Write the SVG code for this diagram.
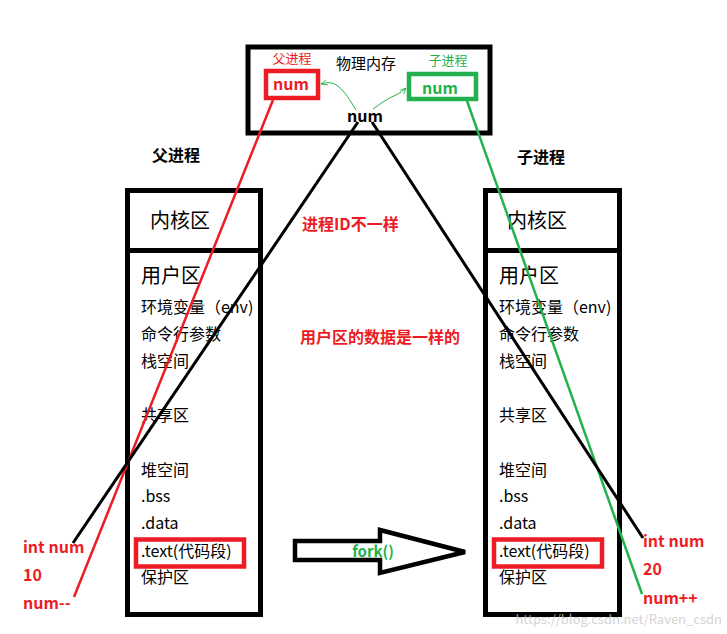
<svg xmlns="http://www.w3.org/2000/svg" width="727" height="634" viewBox="0 0 727 634">
<defs>
<style>
text{font-family:"Noto Sans CJK SC","Liberation Sans",sans-serif;}
.box{fill:none;stroke:#000;stroke-width:5;}
.item{font-size:16px;fill:#000;}
.big{font-size:20px;fill:#000;}
.red{fill:#ed1c24;}
.green{fill:#22b14c;}
.b{font-weight:bold;}
.hl{fill:none;stroke:#ed1c24;stroke-width:4.5;}
</style>
<marker id="ga" viewBox="0 0 10 10" refX="9" refY="5" markerWidth="7" markerHeight="7" orient="auto" markerUnits="userSpaceOnUse">
<path d="M0,1 L9,5 L0,9" fill="none" stroke="#22b14c" stroke-width="1.2"/>
</marker>
</defs>
<rect width="727" height="634" fill="#fff"/>

<g id="memory">
<rect class="box" x="248" y="47" width="242" height="86"/>
<text x="366" y="69" text-anchor="middle" font-size="15">物理内存</text>
<text x="292" y="63" text-anchor="middle" font-size="13" class="red">父进程</text>
<text x="448" y="65" text-anchor="middle" font-size="13" class="green">子进程</text>
<rect x="266" y="71" width="52" height="27" fill="none" stroke="#ed1c24" stroke-width="4.5"/>
<text x="291" y="90" text-anchor="middle" font-size="16" class="red b">num</text>
<rect x="409" y="74" width="67" height="25" fill="none" stroke="#22b14c" stroke-width="4.5"/>
<text x="440" y="94" text-anchor="middle" font-size="16" class="green b">num</text>
<text x="365" y="122" text-anchor="middle" font-size="16" class="b">num</text>
</g>

<g id="parent">
<text x="152" y="161" font-size="16" class="b">父进程</text>
<rect class="box" x="127.5" y="190.5" width="133" height="424"/>
<line x1="127.5" y1="250.5" x2="260.5" y2="250.5" stroke="#000" stroke-width="5"/>
<text x="150" y="228" class="big">内核区</text>
<text x="141" y="283" class="big">用户区</text>
<text x="141" y="313" class="item">环境变量（env)</text>
<text x="141" y="340" class="item">命令行参数</text>
<text x="141" y="367" class="item">栈空间</text>
<text x="141" y="421" class="item">共享区</text>
<text x="141" y="476" class="item">堆空间</text>
<text x="141" y="502" class="item">.bss</text>
<text x="141" y="529" class="item">.data</text>
<text x="141" y="557" class="item">.text(代码段)</text>
<text x="141" y="583" class="item">保护区</text>
<rect class="hl" x="136" y="539.5" width="108" height="27"/>
</g>

<g id="child">
<text x="517" y="163" font-size="16" class="b">子进程</text>
<rect class="box" x="485.5" y="190.5" width="134" height="424"/>
<line x1="485.5" y1="250.5" x2="619.5" y2="250.5" stroke="#000" stroke-width="5"/>
<text x="507" y="228" class="big">内核区</text>
<text x="499" y="283" class="big">用户区</text>
<text x="499" y="313" class="item">环境变量（env)</text>
<text x="499" y="340" class="item">命令行参数</text>
<text x="499" y="367" class="item">栈空间</text>
<text x="499" y="421" class="item">共享区</text>
<text x="499" y="476" class="item">堆空间</text>
<text x="499" y="502" class="item">.bss</text>
<text x="499" y="529" class="item">.data</text>
<text x="499" y="557" class="item">.text(代码段)</text>
<text x="499" y="583" class="item">保护区</text>
<rect class="hl" x="494" y="539.5" width="108" height="27"/>
</g>

<g id="notes">
<text x="302" y="230" font-size="16" class="red b">进程ID不一样</text>
<text x="300" y="343" font-size="16" class="red b">用户区的数据是一样的</text>
<text x="23" y="553" font-size="16" class="red b">int num</text>
<text x="23" y="581" font-size="16" class="red b">10</text>
<text x="23" y="609" font-size="16" class="red b">num--</text>
<text x="643" y="547" font-size="16" class="red b">int num</text>
<text x="643" y="575" font-size="16" class="red b">20</text>
<text x="643" y="604" font-size="16" class="red b">num++</text>
</g>

<g id="fork">
<polygon points="295,541 380,541 380,530 465,552 380,573 380,560 295,560" fill="#fff" stroke="#000" stroke-width="4.5" stroke-linejoin="miter"/>
<text x="373" y="557" text-anchor="middle" font-size="15" class="green b">fork()</text>
</g>

<g id="connectors" fill="none">
<line x1="273" y1="100" x2="74" y2="597" stroke="#ed1c24" stroke-width="2.5"/>
<line x1="467" y1="101" x2="642" y2="594" stroke="#22b14c" stroke-width="2.5"/>
<line x1="358" y1="122" x2="73" y2="543" stroke="#000" stroke-width="3"/>
<line x1="372" y1="122" x2="643" y2="538" stroke="#000" stroke-width="3"/>
<path d="M356,110 C350,100 345,92 338,86 C332,82 328,82 321,84" stroke="#22b14c" stroke-width="1" marker-end="url(#ga)"/>
<path d="M373,109 C380,104 388,98 396,95 C400,93 403,91 406,88" stroke="#22b14c" stroke-width="1" marker-end="url(#ga)"/>
</g>

<text x="722" y="624" text-anchor="end" font-size="13" font-family="Liberation Sans, sans-serif" fill="#c8c8c8" fill-opacity="0.8">https://blog.csdn.net/Raven_csdn</text>
</svg>
